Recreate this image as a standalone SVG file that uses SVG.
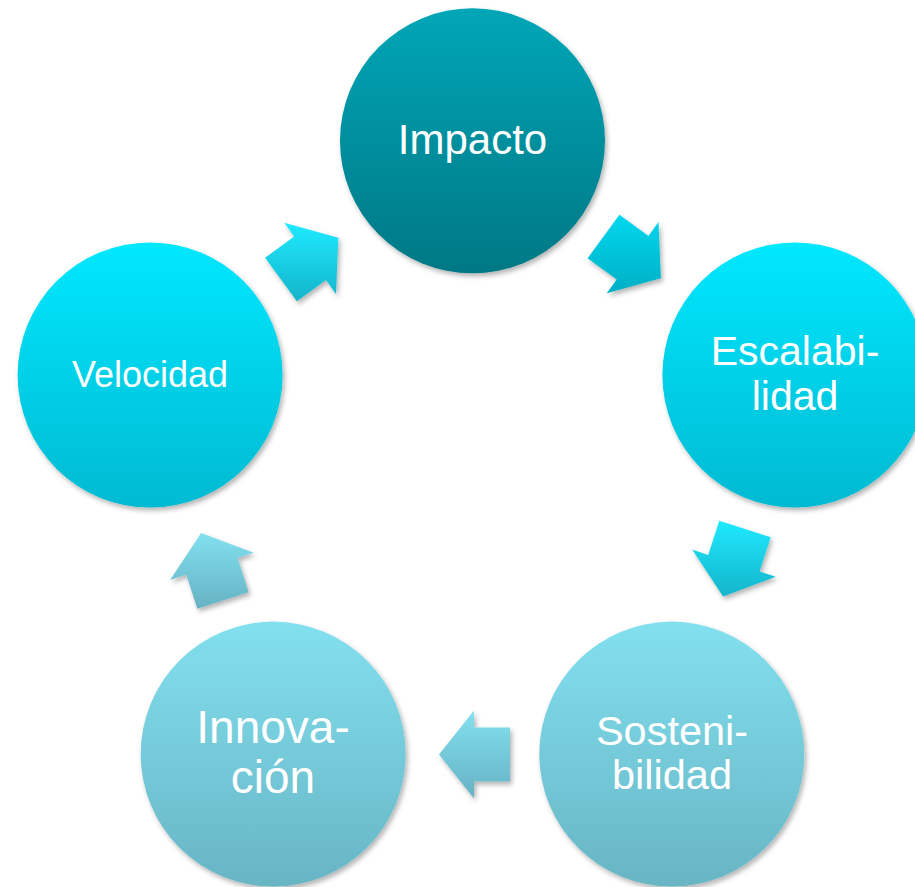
<svg xmlns="http://www.w3.org/2000/svg" width="915" height="887" viewBox="0 0 915 887">
<defs>
<linearGradient id="gDark" x1="0" y1="0" x2="0" y2="1"><stop offset="0" stop-color="#02a6b7"/><stop offset="1" stop-color="#007885"/></linearGradient>
<linearGradient id="gBright" x1="0" y1="0" x2="0" y2="1"><stop offset="0" stop-color="#00e8ff"/><stop offset="1" stop-color="#00bad2"/></linearGradient>
<linearGradient id="gLight" x1="0" y1="0" x2="0" y2="1"><stop offset="0" stop-color="#82e0ef"/><stop offset="1" stop-color="#68b5c4"/></linearGradient>
<linearGradient id="aBright" x1="0" y1="0" x2="0" y2="1"><stop offset="0" stop-color="#20eaff"/><stop offset="1" stop-color="#13b4ca"/></linearGradient>
<linearGradient id="aMid" x1="0" y1="0" x2="0" y2="1"><stop offset="0" stop-color="#00d8ee"/><stop offset="1" stop-color="#00afc5"/></linearGradient>
<linearGradient id="aLight" x1="0" y1="0" x2="0" y2="1"><stop offset="0" stop-color="#82e0ef"/><stop offset="1" stop-color="#66b2c3"/></linearGradient>
<filter id="sh" x="-20%" y="-20%" width="140%" height="140%"><feDropShadow dx="2" dy="3" stdDeviation="2.5" flood-color="#000" flood-opacity="0.3"/></filter>
</defs>
<style>
.node circle{filter:url(#sh)}
.lbl{font-family:"Liberation Sans",Arial,sans-serif;fill:#ffffff;text-anchor:middle}
.arr{filter:url(#sh)}
</style>
<rect width="915" height="887" fill="#ffffff"/>
<g id="connectors">
<polygon class="arr" fill="url(#aBright)" points="265.1,257.7 294.2,236.5 284.2,222.7 338.4,237.8 336,293.9 326,280.1 296.9,301.3"/>
<polygon class="arr" fill="url(#aMid)" points="619.4,214.7 648.5,235.9 658.5,222.1 660.9,278.2 606.7,293.3 616.7,279.5 587.6,258.3"/>
<polygon class="arr" fill="url(#aBright)" points="770.7,537.3 759.6,571.5 775.7,576.8 723.1,596.5 692.1,549.6 708.2,554.9 719.3,520.7"/>
<polygon class="arr" fill="url(#aLight)" points="510,781.5 474,781.5 474,798.5 439,754.5 474,710.5 474,727.5 510,727.5"/>
<polygon class="arr" fill="url(#aLight)" points="197.3,608.8 186.2,574.6 170.1,579.9 201.1,533 253.7,552.7 237.6,558 248.7,592.2"/>
</g>
<g id="node-impacto" class="node">
<circle cx="472.5" cy="140.8" r="132.5" fill="url(#gDark)"/>
<text class="lbl" x="472.5" y="154" font-size="42">Impacto</text>
</g>
<g id="node-escalabilidad" class="node">
<circle cx="794.9" cy="375" r="132.5" fill="url(#gBright)"/>
<text class="lbl" x="795" y="365" font-size="41">Escalabi-</text>
<text class="lbl" x="795" y="410" font-size="41">lidad</text>
</g>
<g id="node-sostenibilidad" class="node">
<circle cx="671.8" cy="754.1" r="132.5" fill="url(#gLight)"/>
<text class="lbl" x="672" y="745" font-size="41.5">Sosteni-</text>
<text class="lbl" x="672" y="789" font-size="41.5">bilidad</text>
</g>
<g id="node-innovacion" class="node">
<circle cx="273.2" cy="754.1" r="132.5" fill="url(#gLight)"/>
<text class="lbl" x="273" y="743" font-size="46">Innova-</text>
<text class="lbl" x="273" y="793" font-size="46">ción</text>
</g>
<g id="node-velocidad" class="node">
<circle cx="150.1" cy="375" r="132.5" fill="url(#gBright)"/>
<text class="lbl" x="150" y="387" font-size="36">Velocidad</text>
</g>
</svg>
